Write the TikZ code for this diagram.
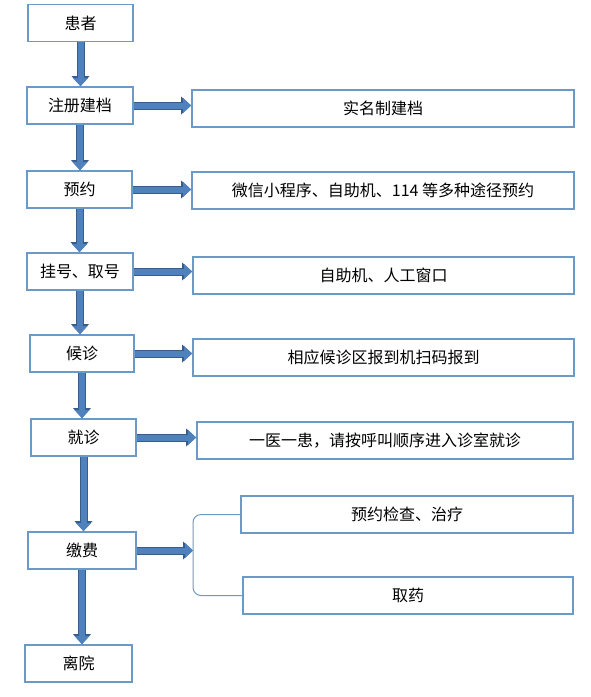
\documentclass[tikz,border=0pt]{standalone}
\usepackage{fontspec}
\usepackage{tikz}
\usetikzlibrary{calc}
\usetikzlibrary{arrows.meta}
\newfontfamily\cjk{Noto Sans CJK SC}
\definecolor{boxline}{RGB}{108,154,200}
\definecolor{arrowfill}{RGB}{79,129,189}
\definecolor{arrowline}{RGB}{56,93,138}

\begin{document}
\begin{tikzpicture}[x = 1pt, y = -1pt,
  stepbox/.style = {rectangle, draw = boxline, line width = 1.8pt, minimum height = 37pt, inner sep = 0pt, font = \cjk\fontsize{16}{19}\selectfont},
  flow/.style = {line width = 6pt, color = arrowfill, -{Triangle[width = 15pt 0, length = 8pt 0, line width = 0pt]},
    preaction = {draw, color = arrowline, line width = 8pt, -{Triangle[width = 18pt 0, length = 10pt 0, line width = 0pt]}}},
  bracket/.style = {draw = boxline, line width = 1pt, rounded corners = 8pt}]
\useasboundingbox (0,0) rectangle (591,697);

\draw (80.5,23) node[name = patient, stepbox, minimum width = 105pt]{患者};
\draw (80,105.5) node[name = register, stepbox, minimum width = 106pt]{注册建档};
\draw (79.5,189.5) node[name = book, stepbox, minimum width = 105pt]{预约};
\draw (80,271.5) node[name = ticket, stepbox, minimum width = 106pt]{挂号、取号};
\draw (82,353.5) node[name = wait, stepbox, minimum width = 104pt]{候诊};
\draw (83.5,437.5) node[name = visit, stepbox, minimum width = 105pt]{就诊};
\draw (82,550.5) node[name = pay, stepbox, minimum width = 108pt]{缴费};
\draw (78.5,663.5) node[name = leave, stepbox, minimum width = 107pt]{离院};

\draw (383,108.5) node[name = record, stepbox, minimum width = 382pt]{实名制建档};
\draw (383,190.5) node[name = channel, stepbox, minimum width = 382pt]{微信小程序、自助机、114 等多种途径预约};
\draw (383.5,275.5) node[name = window, stepbox, minimum width = 381pt]{自助机、人工窗口};
\draw (383.5,357.5) node[name = scan, stepbox, minimum width = 381pt]{相应候诊区报到机扫码报到};
\draw (385,440.5) node[name = call, stepbox, minimum width = 376pt]{一医一患，请按呼叫顺序进入诊室就诊};
\draw (407,514.5) node[name = check, stepbox, minimum width = 332pt]{预约检查、治疗};
\draw (408,595.5) node[name = drug, stepbox, minimum width = 330pt]{取药};
\coordinate (brace) at (193,550.5);

\draw[flow] (patient.south) -- (patient.south |- register.north);
\draw[flow] (register.south) -- (register.south |- book.north);
\draw[flow] (book.south) -- (book.south |- ticket.north);
\draw[flow] (ticket.south) -- (ticket.south |- wait.north);
\draw[flow] (wait.south) -- (wait.south |- visit.north);
\draw[flow] (visit.south) -- (visit.south |- pay.north);
\draw[flow] (pay.south) -- (pay.south |- leave.north);

\draw[flow] (register.east) -- (register.east -| record.west);
\draw[flow] (book.east) -- (book.east -| channel.west);
\draw[flow] (ticket.east) -- (ticket.east -| window.west);
\draw[flow] (wait.east) -- (wait.east -| scan.west);
\draw[flow] (visit.east) -- (visit.east -| call.west);
\draw[flow] (pay.east) -- (brace);

\draw[bracket] (check.west) -| (brace) |- (drug.west);

\end{tikzpicture}
\end{document}
